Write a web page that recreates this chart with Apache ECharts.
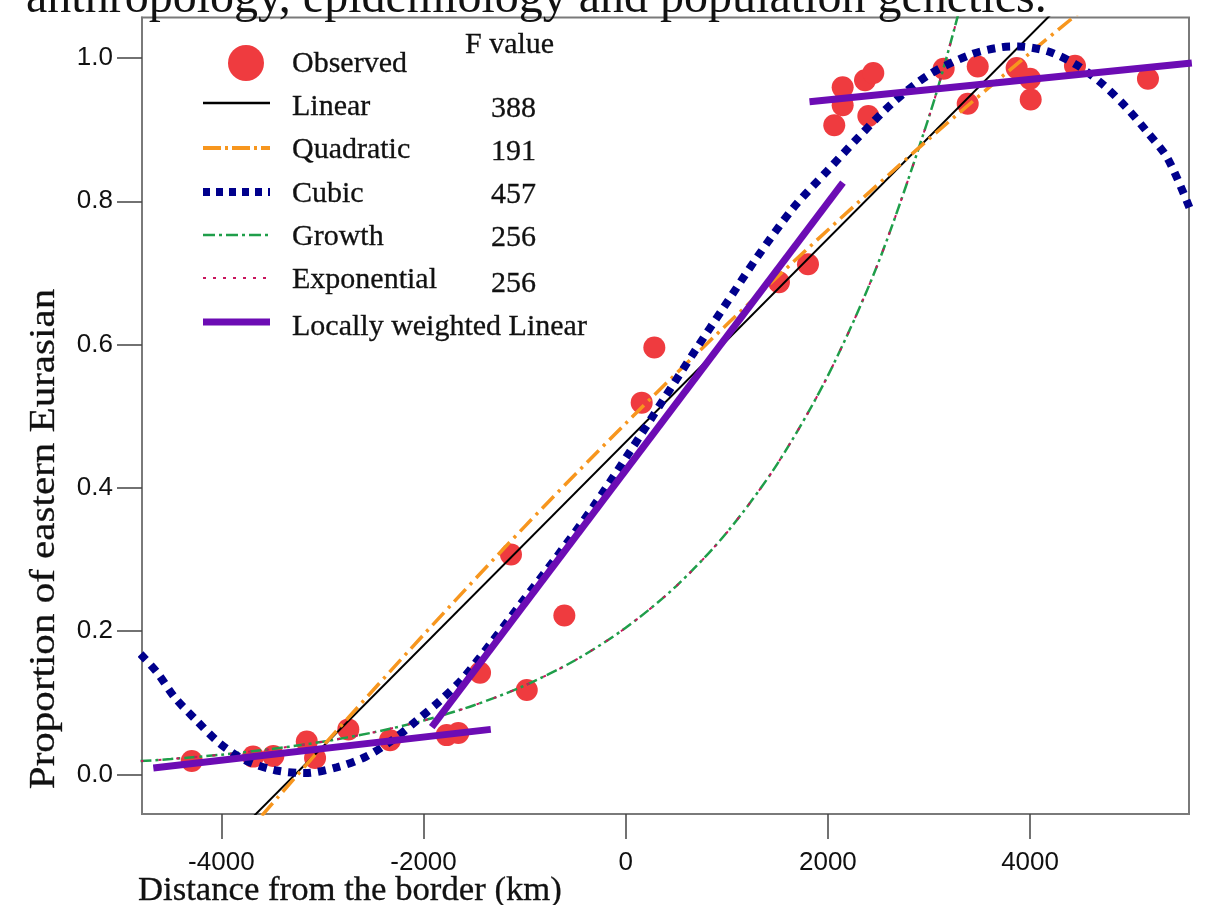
<!DOCTYPE html>
<html>
<head>
<meta charset="utf-8">
<script src="https://cdn.jsdelivr.net/npm/echarts@6/dist/echarts.min.js"></script>
<style>
html,body{margin:0;padding:0;background:#fff;}
#chart{width:1209px;height:905px;}
</style>
</head>
<body>
<div id="chart"></div>
<script>
// ---------- data ----------
const xTicks = [-4000, -2000, 0, 2000, 4000];
const yTicks = [0, 0.2, 0.4, 0.6, 0.8, 1.0];

const observed = [
  [-4293, 0.019], [-3686, 0.025], [-3486, 0.026], [-3155, 0.046], [-3073, 0.023],
  [-2744, 0.063], [-2331, 0.048], [-1771, 0.055], [-1656, 0.058], [-1441, 0.142],
  [-1135, 0.307], [-979, 0.118], [-607, 0.222], [158, 0.519], [283, 0.596],
  [1516, 0.687], [1803, 0.712], [2063, 0.906], [2146, 0.959], [2146, 0.934],
  [2367, 0.969], [2449, 0.979], [2400, 0.919], [3145, 0.985], [3482, 0.988],
  [3383, 0.936], [3867, 0.986], [3999, 0.971], [4006, 0.942], [4444, 0.989],
  [5166, 0.971]
];

const linearFit = [[-3700, -0.061], [4250, 1.067]];

const quadraticFit = [
  [-3600, -0.0575], [-3000, 0.039], [-2000, 0.195], [-1000, 0.346], [0, 0.490],
  [1000, 0.628], [2000, 0.760], [3000, 0.887], [4000, 1.007], [4500, 1.065]
];

const cubicFit = [
  [-4800, 0.168], [-4639, 0.143], [-4458, 0.107], [-4243, 0.075], [-4020, 0.044],
  [-3766, 0.020], [-3469, 0.006], [-3172, 0.002], [-2859, 0.010], [-2569, 0.025],
  [-2299, 0.049], [-2061, 0.076], [-1837, 0.103], [-1612, 0.134], [-1325, 0.185],
  [-1045, 0.237], [-682, 0.304], [-320, 0.374], [43, 0.451], [372, 0.523],
  [702, 0.595], [965, 0.651], [1300, 0.722], [1659, 0.791], [1991, 0.842],
  [2307, 0.890], [2638, 0.937], [3003, 0.977], [3418, 1.005], [3717, 1.015],
  [3883, 1.016], [4182, 1.009], [4464, 0.990], [4712, 0.964], [4945, 0.932],
  [5151, 0.898], [5360, 0.860], [5580, 0.790]
];

const growthFit = [
  [-4800, 0.0187], [-4500, 0.0216], [-4000, 0.0277], [-3500, 0.0356], [-3000, 0.0457],
  [-2500, 0.0587], [-2000, 0.0753], [-1500, 0.0967], [-1000, 0.1242], [-500, 0.1595],
  [0, 0.2048], [500, 0.2630], [1000, 0.3377], [1500, 0.4336], [2000, 0.5567],
  [2500, 0.7148], [3000, 0.9179], [3250, 1.0401], [3500, 1.1785]
];

const exponentialFit = [
  [-4800, 0.0187], [-4500, 0.0216], [-4000, 0.0277], [-3500, 0.0356], [-3000, 0.0457],
  [-2500, 0.0587], [-2000, 0.0753], [-1500, 0.0967], [-1000, 0.1242], [-500, 0.1595],
  [0, 0.2048], [500, 0.2630], [1000, 0.3377], [1500, 0.4336], [2000, 0.5567],
  [2500, 0.7148], [3000, 0.9179], [3250, 1.0401], [3500, 1.1785]
];

const loessWest = [[-4673, 0.009], [-1335, 0.063]];
const loessMiddle = [[-1919, 0.066], [2149, 0.826]];
const loessEast = [[1818, 0.939], [5600, 0.993]];

const legendNames = ['Observed', 'Linear', 'Quadratic', 'Cubic', 'Growth', 'Exponential', 'Locally weighted Linear'];
const fValues = ['388', '191', '457', '256', '256'];

// ---------- styling ----------
const C = {
  red: '#ef3b3f', black: '#000000', orange: '#f7961e', navy: '#00008c',
  green: '#1f9e4a', crimson: '#c8175d', purple: '#6c0cb4', axis: '#7a7a7a'
};
const serif = '"Liberation Serif", "Times New Roman", serif';
const sans = '"Liberation Sans", Arial, sans-serif';

const chart = echarts.init(document.getElementById('chart'), null, {renderer: 'canvas'});

function lineSeries(name, data, color, width, type, smooth, z) {
  return {
    name: name, type: 'line', data: data, showSymbol: false, symbol: 'none',
    smooth: smooth ? 0.3 : false, clip: true, z: z,
    lineStyle: {color: color, width: width, type: type, cap: 'butt'},
    emphasis: {disabled: true}, silent: true
  };
}

const legendX1 = 203, legendX2 = 270;
const textFill = '#111111';
function legendText(x, y, text) {
  return {type: 'text', x: x, y: y, z: 100, silent: true,
    style: {text: text, font: '30px ' + serif, fill: textFill, stroke: textFill, lineWidth: 0.3,
      textAlign: 'left', textVerticalAlign: 'middle'}};
}
function legendLine(y, color, width, dash) {
  return {type: 'line', z: 100, silent: true,
    shape: {x1: legendX1, y1: y, x2: legendX2, y2: y},
    style: {stroke: color, lineWidth: width, lineDash: dash || null, lineCap: 'butt'}};
}

const option = {
  animation: false,
  backgroundColor: '#ffffff',
  grid: {left: 142, top: 17.5, right: 20, bottom: 91, show: true,
    borderColor: C.axis, borderWidth: 2, backgroundColor: 'transparent', containLabel: false},
  xAxis: {
    type: 'value', min: -4785, max: 5572,
    axisLine: {show: true, onZero: false, lineStyle: {color: C.axis, width: 2}},
    axisTick: {show: true, length: 25, customValues: xTicks, lineStyle: {color: '#444', width: 1.5}},
    axisLabel: {show: true, customValues: xTicks, margin: 36, fontFamily: sans, fontSize: 26, color: '#111',
      formatter: function (v) { return String(v); }},
    splitLine: {show: false}
  },
  yAxis: {
    type: 'value', min: -0.0551, max: 1.0565,
    axisLine: {show: true, onZero: false, lineStyle: {color: C.axis, width: 2}},
    axisTick: {show: true, length: 25, customValues: yTicks, lineStyle: {color: '#444', width: 1.5}},
    axisLabel: {show: true, customValues: yTicks, margin: 29, fontFamily: sans, fontSize: 26, color: '#111',
      formatter: function (v) { return Number(v).toFixed(1); }},
    splitLine: {show: false}
  },
  series: [
    {name: 'Observed', type: 'scatter', data: observed, symbol: 'circle', symbolSize: 22, z: 1,
      itemStyle: {color: C.red, opacity: 1}, silent: true},
    lineSeries('Growth', growthFit, C.green, 2.5, [11, 4, 3, 4], true, 2),
    lineSeries('Exponential', exponentialFit, C.crimson, 2, [3, 15], true, 3),
    lineSeries('Linear', linearFit, C.black, 2, 'solid', false, 4),
    lineSeries('Quadratic', quadraticFit, C.orange, 3.5, [17, 6, 3, 6], true, 5),
    lineSeries('Cubic', cubicFit, C.navy, 8, [8, 7], true, 6),
    lineSeries('Locally weighted Linear', loessWest, C.purple, 7, 'solid', false, 7),
    lineSeries('Locally weighted Linear', loessMiddle, C.purple, 7, 'solid', false, 7),
    lineSeries('Locally weighted Linear', loessEast, C.purple, 7, 'solid', false, 7)
  ],
  graphic: [
    // cropped caption at the very top
    {type: 'text', x: 26, y: -1, silent: true,
      style: {text: 'anthropology, epidemiology and population genetics.', font: '48px ' + serif, fill: textFill,
        textAlign: 'left', textVerticalAlign: 'middle'}},
    // axis titles
    {type: 'text', x: 138, y: 891, silent: true,
      style: {text: 'Distance from the border (km)', font: '34.7px ' + serif, fill: textFill, stroke: textFill, lineWidth: 0.3,
        textAlign: 'left', textVerticalAlign: 'middle'}},
    {type: 'text', x: 45, y: 539, rotation: Math.PI / 2, scaleX: 1.14, silent: true,
      style: {text: 'Proportion of eastern Eurasian', font: '36px ' + serif, fill: textFill, stroke: textFill, lineWidth: 0.3,
        textAlign: 'center', textVerticalAlign: 'middle'}},
    // legend
    {type: 'circle', z: 100, silent: true, shape: {cx: 246, cy: 63, r: 18}, style: {fill: C.red}},
    legendLine(103, C.black, 2.5),
    legendLine(148, C.orange, 4, [18, 4, 3, 4]),
    legendLine(192, C.navy, 8, [7, 6]),
    legendLine(235, C.green, 2.5, [12, 4, 3, 4]),
    legendLine(278, C.crimson, 2, [3, 7]),
    legendLine(322, C.purple, 7),
    legendText(292, 64, legendNames[0]),
    legendText(292, 107, legendNames[1]),
    legendText(292, 150, legendNames[2]),
    legendText(292, 194, legendNames[3]),
    legendText(292, 237, legendNames[4]),
    legendText(292, 280, legendNames[5]),
    legendText(292, 327, legendNames[6]),
    legendText(465, 45, 'F value'),
    legendText(491, 109, fValues[0]),
    legendText(491, 152, fValues[1]),
    legendText(491, 195, fValues[2]),
    legendText(491, 238, fValues[3]),
    legendText(491, 284, fValues[4])
  ]
};
chart.setOption(option);
</script>
</body>
</html>
